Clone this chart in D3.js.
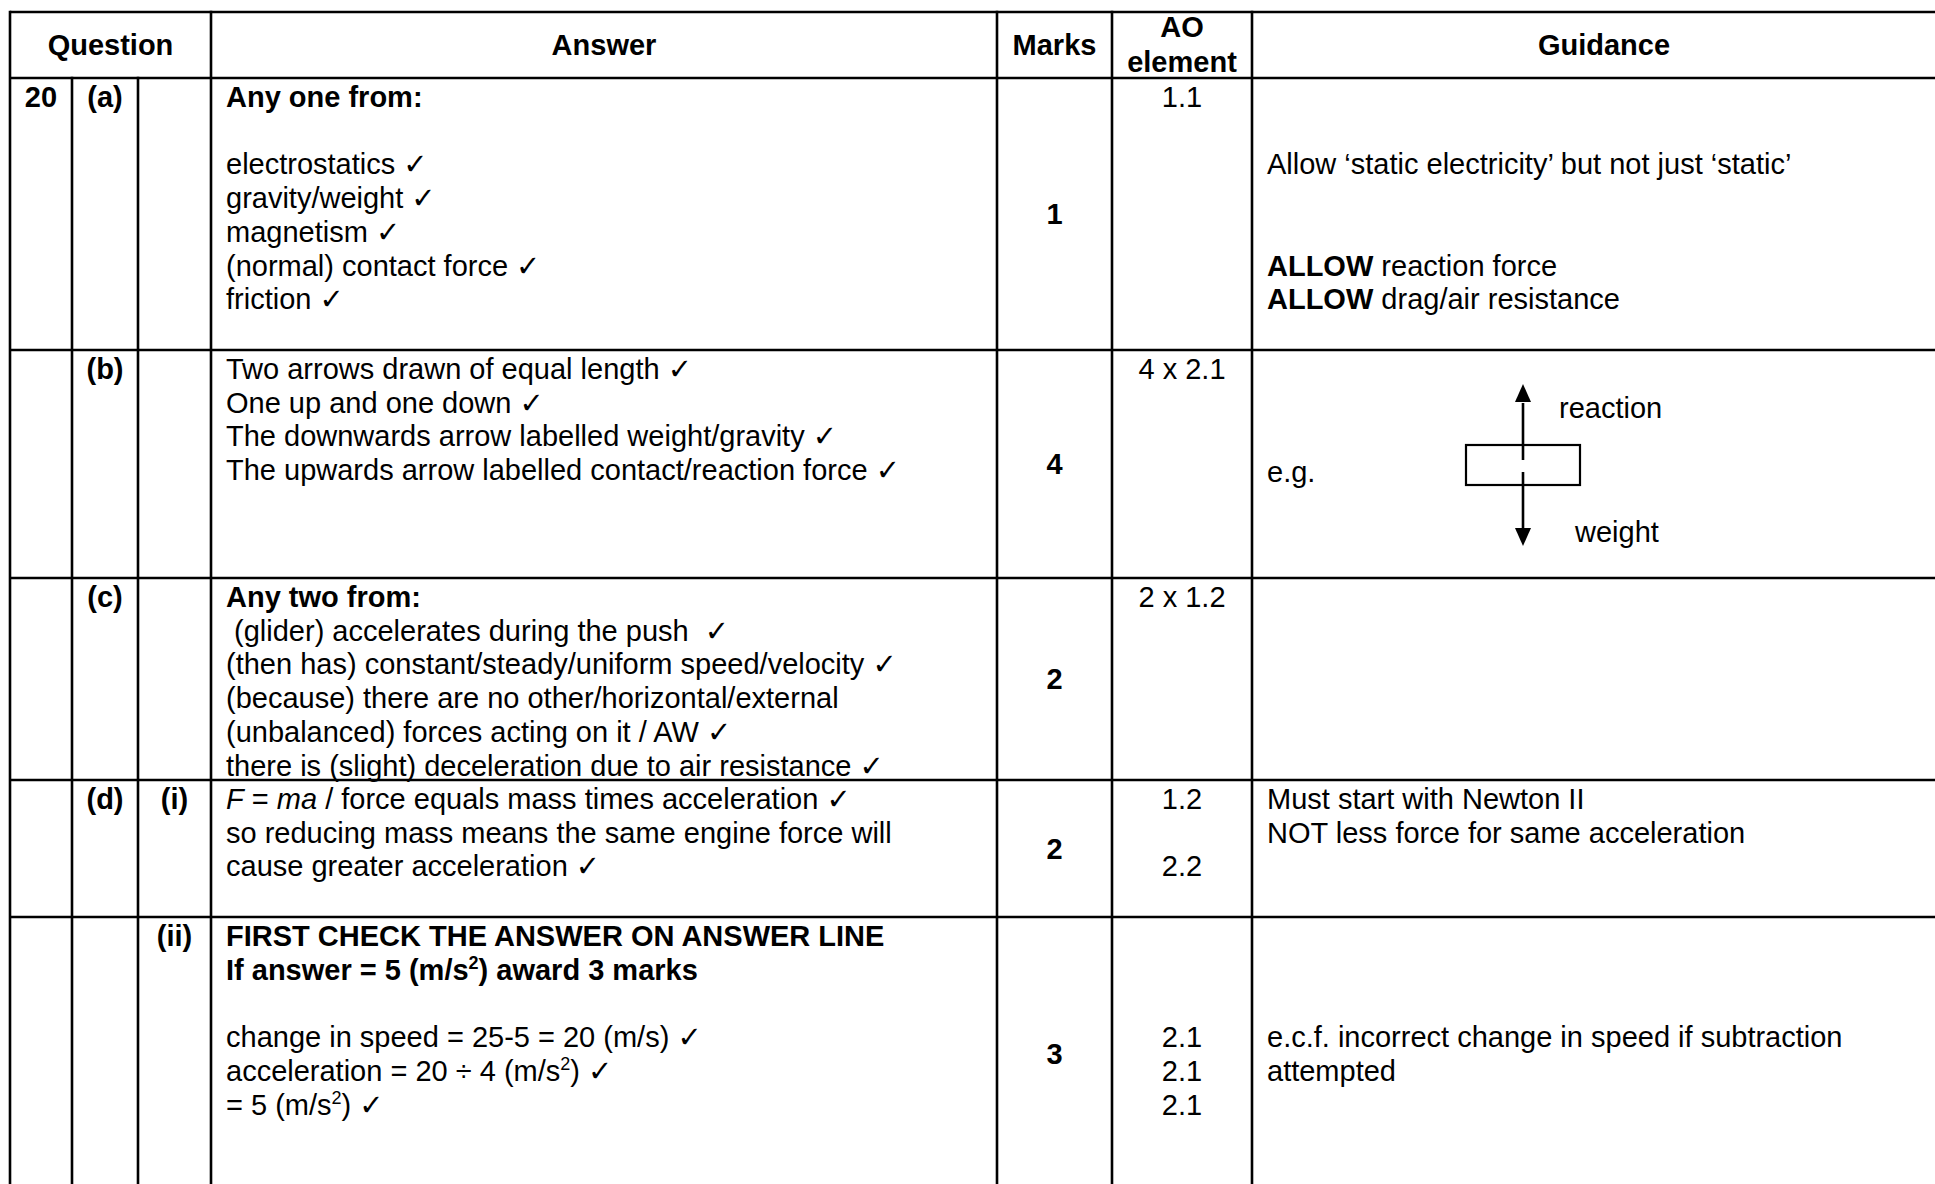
<!DOCTYPE html>
<html>
<head>
<meta charset="utf-8">
<script src="https://cdn.jsdelivr.net/npm/d3@7"></script>
<style>
  html, body { margin: 0; padding: 0; background: #fff; overflow: hidden; }
  svg { display: block; }
  text { font-family: "Liberation Sans", Arial, Helvetica, sans-serif; fill: #000; white-space: pre; }
</style>
</head>
<body>
<div id="chart"></div>
<script>
// table contents
const headers = ["Question", "Answer", "Marks", ["AO", "element"], "Guidance"];
const questionNo = ["20", "", "", "", ""];
const parts = ["(a)", "(b)", "(c)", "(d)", ""];
const subParts = ["", "", "", "(i)", "(ii)"];
const answers = [
  ["**Any one from:**", "", "electrostatics ✓", "gravity/weight ✓", "magnetism ✓", "(normal) contact force ✓", "friction ✓"],
  ["Two arrows drawn of equal length ✓", "One up and one down ✓", "The downwards arrow labelled weight/gravity ✓", "The upwards arrow labelled contact/reaction force ✓"],
  ["**Any two from:**", " (glider) accelerates during the push  ✓", "(then has) constant/steady/uniform speed/velocity ✓", "(because) there are no other/horizontal/external", "(unbalanced) forces acting on it / AW ✓", "there is (slight) deceleration due to air resistance ✓"],
  ["_F_ = _ma_ / force equals mass times acceleration ✓", "so reducing mass means the same engine force will", "cause greater acceleration ✓"],
  ["**FIRST CHECK THE ANSWER ON ANSWER LINE**", "**If answer = 5 (m/s^2) award 3 marks**", "", "change in speed = 25-5 = 20 (m/s) ✓", "acceleration = 20 ÷ 4 (m/s^2) ✓", "= 5 (m/s^2) ✓"]
];
const marks = [1, 4, 2, 2, 3];
const aoElements = [
  ["1.1"],
  ["4 x 2.1"],
  ["2 x 1.2"],
  ["1.2", "", "2.2"],
  ["", "", "", "2.1", "2.1", "2.1"]
];
const guidance = [
  ["", "", "Allow ‘static electricity’ but not just ‘static’", "", "", "**ALLOW** reaction force", "**ALLOW** drag/air resistance"],
  [],
  [],
  ["Must start with Newton II", "NOT less force for same acceleration"],
  ["", "", "", "e.c.f. incorrect change in speed if subtraction", "attempted"]
];
const diagramLabels = ["e.g.", "reaction", "weight"];

// layout
const W = 1935, H = 1184;
const colEdges = [10, 72, 138, 211, 997, 1112, 1252, 1956];
const rowEdges = [12, 78, 350, 578, 780, 917, 1191];
const fontSize = 29, lineH = 33.7, firstBase = 29, padL = 15;

const svg = d3.select("#chart").append("svg")
  .attr("width", W).attr("height", H);

const rowTop = i => rowEdges[i + 1];
const rowBot = i => rowEdges[i + 2];
const colMid = (a, b) => (colEdges[a] + colEdges[b]) / 2;

// write a line with **bold**, _italic_, ^2 and ✓ markup
function richText(g, str, x, y, anchor, baseBold) {
  const t = g.append("text").attr("x", x).attr("y", y)
    .attr("font-size", fontSize).attr("text-anchor", anchor || "start");
  let bold = !!baseBold, ital = false, lift = 0;
  str.split(/(\*\*|_|\^\d|✓)/).forEach(tok => {
    if (tok === "") return;
    if (tok === "**") { bold = !bold; return; }
    if (tok === "_") { ital = !ital; return; }
    const s = t.append("tspan").attr("font-weight", bold ? "bold" : "normal")
      .attr("font-style", ital ? "italic" : "normal");
    if (tok[0] === "^") {
      s.text(tok.slice(1)).attr("font-size", 18).attr("dy", -11);
      lift = 11;
      return;
    }
    if (lift) { s.attr("dy", lift); lift = 0; }
    if (tok === "✓") s.text("✓").attr("font-size", 29).attr("font-family", "DejaVu Sans");
    else s.text(tok);
  });
  return t;
}

// header
const hdr = svg.append("g");
const headCols = [[0, 3], [3, 4], [4, 5], [5, 6], [6, 7]];
headers.forEach((h, i) => {
  const x = colMid(headCols[i][0], headCols[i][1]);
  if (Array.isArray(h)) {
    h.forEach((s, k) => richText(hdr, s, x, 37 + k * 35, "middle", true));
  } else {
    richText(hdr, h, x, 55, "middle", true);
  }
});

// body rows
const body = svg.append("g");
marks.forEach((m, r) => {
  const top = rowTop(r);
  const base = k => top + firstBase + k * lineH;
  if (questionNo[r]) richText(body, questionNo[r], colMid(0, 1), base(0), "middle", true);
  if (parts[r]) richText(body, parts[r], colMid(1, 2), base(0), "middle", true);
  if (subParts[r]) richText(body, subParts[r], colMid(2, 3), base(0), "middle", true);
  answers[r].forEach((s, k) => { if (s) richText(body, s, colEdges[3] + padL, base(k)); });
  richText(body, String(m), colMid(4, 5), (top + rowBot(r)) / 2 + 10, "middle", true);
  aoElements[r].forEach((s, k) => { if (s) richText(body, s, colMid(5, 6), base(k), "middle"); });
  guidance[r].forEach((s, k) => { if (s) richText(body, s, colEdges[6] + padL, base(k)); });
});

// force diagram in guidance of (b)
const dg = body.append("g")
  .attr("transform", `translate(${colEdges[6]},${rowTop(1)})`);
richText(dg, diagramLabels[0], padL, 132);
const bx = 214, bw = 114, by = 95, bh = 40, ax = bx + bw / 2;
dg.append("rect").attr("x", bx).attr("y", by).attr("width", bw).attr("height", bh)
  .attr("fill", "none").attr("stroke", "#000").attr("stroke-width", 2.2);
const head = 18, hw = 8;
dg.append("line").attr("x1", ax).attr("x2", ax).attr("y1", by + 15).attr("y2", 35 + head)
  .attr("stroke", "#000").attr("stroke-width", 2.6);
dg.append("path").attr("d", d3.line()([[ax, 34], [ax - hw, 34 + head], [ax + hw, 34 + head]]) + "Z");
dg.append("line").attr("x1", ax).attr("x2", ax).attr("y1", by + 27).attr("y2", 196 - head)
  .attr("stroke", "#000").attr("stroke-width", 2.6);
dg.append("path").attr("d", d3.line()([[ax, 196], [ax - hw, 196 - head], [ax + hw, 196 - head]]) + "Z");
richText(dg, diagramLabels[1], 307, 68);
richText(dg, diagramLabels[2], 323, 192);

// grid lines
const grid = svg.append("g").attr("stroke", "#000").attr("stroke-width", 2.6);
const yTop = rowEdges[0], yBot = rowEdges[rowEdges.length - 1];
rowEdges.slice(0, -1).forEach(y => {
  grid.append("line").attr("x1", colEdges[0]).attr("x2", colEdges[7] + 2).attr("y1", y).attr("y2", y);
});
colEdges.forEach((x, i) => {
  const y1 = (i === 1 || i === 2) ? rowEdges[1] : yTop;
  grid.append("line").attr("x1", x).attr("x2", x).attr("y1", y1 - 1.3).attr("y2", yBot);
});
</script>
</body>
</html>
